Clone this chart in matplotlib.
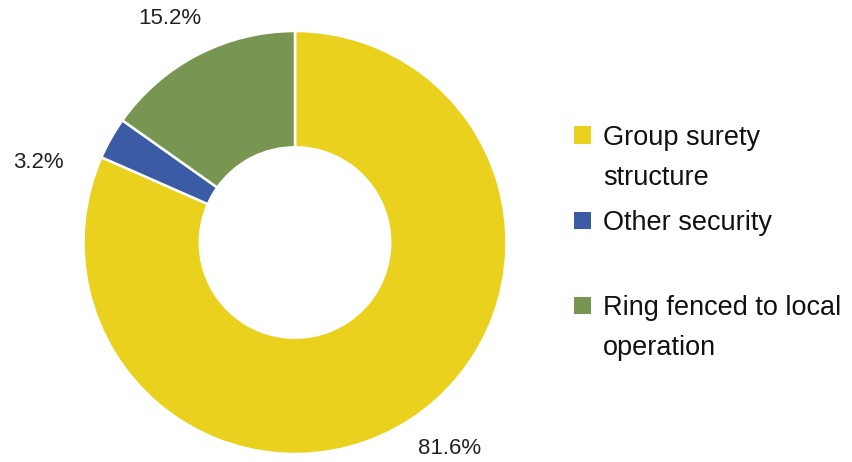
import matplotlib.pyplot as plt
from matplotlib.patches import Rectangle

categories = ["Group surety structure", "Other security", "Ring fenced to local operation"]
legend_lines = [["Group surety", "structure"], ["Other security"], ["Ring fenced to local", "operation"]]
shares = [81.6, 3.2, 15.2]
colors = ["#E9D11E", "#3B5BA5", "#789652"]

# label centres in pixels (x from left, y from top)
label_pos = [(450, 448), (38, 163), (170, 18)]

W, H = 852, 462
plt.rcParams['font.family'] = ['Liberation Sans', 'DejaVu Sans']

fig = plt.figure(figsize=(W / 100, H / 100), dpi=100)
cx, cy, R = 295, 242.5, 211.5
ax = fig.add_axes([(cx - R) / W, (H - cy - R) / H, 2 * R / W, 2 * R / H])
ax.pie(shares, colors=colors, startangle=90, counterclock=False, radius=1,
       wedgeprops=dict(width=0.55, edgecolor="white", linewidth=1.8))
ax.set_xlim(-1, 1)
ax.set_ylim(-1, 1)
ax.set_aspect("equal")
ax.axis("off")

for val, (px, py) in zip(shares, label_pos):
    fig.text(px / W, 1 - py / H, f"{val:.1f}%", fontsize=16, color="#222222",
             ha="center", va="center")

# legend
sq = 17
marker_y = [135, 220, 305]
baselines = [[145, 185], [230], [315, 355]]
for col, my, lines, bls in zip(colors, marker_y, legend_lines, baselines):
    fig.patches.append(Rectangle(((582 - sq / 2) / W, 1 - (my + sq / 2) / H), sq / W, sq / H,
                                 transform=fig.transFigure, facecolor=col, edgecolor="none"))
    for line, bl in zip(lines, bls):
        fig.text(603 / W, 1 - bl / H, line, fontsize=19.5, color="#111111",
                 ha="left", va="baseline")

fig.savefig("out.png", dpi=100)
plt.close(fig)
